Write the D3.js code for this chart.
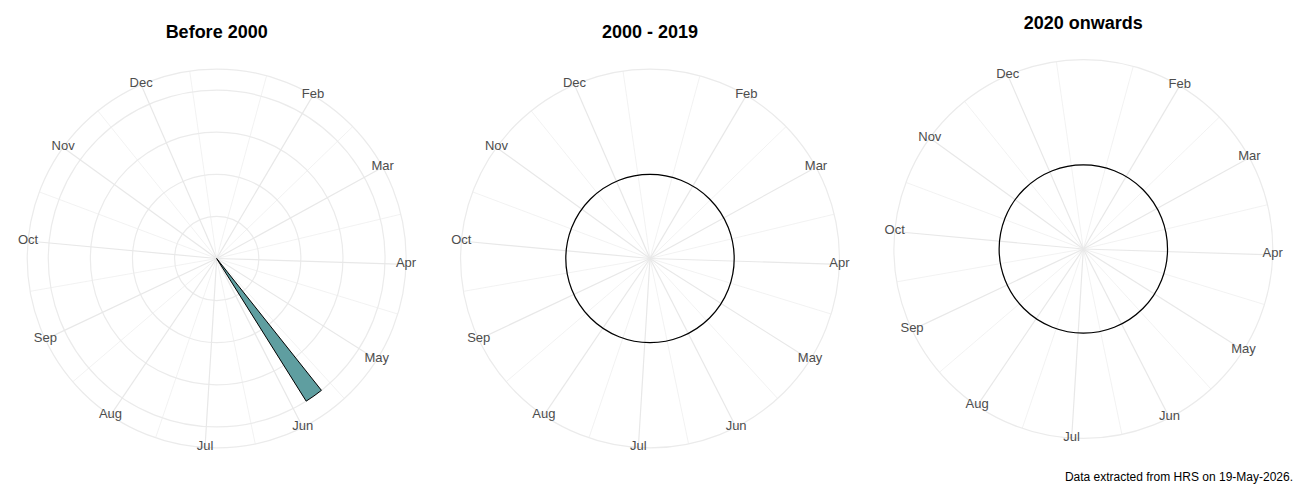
<!DOCTYPE html>
<html>
<head>
<meta charset="utf-8">
<script src="https://cdn.jsdelivr.net/npm/d3@7"></script>
<style>
    body { margin: 0; background: #fff; }
    svg { display: block; font-family: "Liberation Sans", Arial, sans-serif; }
</style>
</head>
<body>
<div id="chart-container"></div>
<script>
const panelTitles = ["Before 2000", "2000 - 2019", "2020 onwards"];
const monthLabels = ["Jan", "Feb", "Mar", "Apr", "May", "Jun", "Jul", "Aug", "Sep", "Oct", "Nov", "Dec"];
// month breaks in week-of-year units
const monthBreaks = [1, 5.33, 9.67, 14, 18.33, 22.67, 27, 31.33, 35.67, 40, 44.33, 48.67];
const weekRange = [1, 52];
const countBreaks = [0, 0.25, 0.5, 0.75, 1];

// weekly counts per period (only non-empty weeks listed)
const before2000Weeks = [21.5];
const before2000Counts = [1];
const from2000Weeks = [];
const from2000Counts = [];
const from2020Weeks = [];
const from2020Counts = [];

const caption = "Data extracted from HRS on 19-May-2026.";

const panels = [
    { title: panelTitles[0], weeks: before2000Weeks, counts: before2000Counts },
    { title: panelTitles[1], weeks: from2000Weeks, counts: from2000Counts },
    { title: panelTitles[2], weeks: from2020Weeks, counts: from2020Counts }
];

const W = 1300, H = 500;
const svg = d3.select('#chart-container')
    .append('svg')
    .attr('width', W)
    .attr('height', H);

function createPolarChart(panel, i) {
    const cx = W / 3 * i + W / 6;
    // last panel sits a bit higher
    const cy = i === 2 ? 249 : 258.5;
    const titleY = i === 2 ? 29 : 38;
    const rMax = 168.4;
    const rRim = rMax * 0.45 / 0.4;

    const g = svg.append('g')
        .attr('transform', `translate(${cx}, ${cy})`);

    const theta = d3.scaleLinear()
        .domain(weekRange)
        .range([0, 2 * Math.PI]);

    const hasData = panel.counts.length > 0;
    const yDomain = hasData ? [0, d3.max(panel.counts)] : [-0.5, 0.5];
    const r = d3.scaleLinear()
        .domain(yDomain)
        .range([0, rMax]);

    const px = (a, rad) => rad * Math.sin(a);
    const py = (a, rad) => -rad * Math.cos(a);

    // minor theta grid: midpoints of month breaks
    const minorBreaks = monthBreaks.map((b, k) => {
        const next = k < monthBreaks.length - 1 ? monthBreaks[k + 1] : b + (b - monthBreaks[k - 1]);
        return (b + next) / 2;
    }).filter(b => b > weekRange[0] && b < weekRange[1]);

    g.selectAll('.minor-spoke')
        .data(minorBreaks)
        .enter()
        .append('line')
        .attr('class', 'minor-spoke')
        .attr('x1', 0).attr('y1', 0)
        .attr('x2', d => px(theta(d), rRim))
        .attr('y2', d => py(theta(d), rRim))
        .attr('stroke', '#ededed')
        .attr('stroke-width', 0.7);

    // radial grid circles
    const yGrid = hasData ? countBreaks.filter(b => b > 0) : [0];
    g.selectAll('.ring')
        .data(yGrid)
        .enter()
        .append('circle')
        .attr('class', 'ring')
        .attr('r', d => r(d))
        .attr('fill', 'none')
        .attr('stroke', '#ebebeb')
        .attr('stroke-width', 1.2);

    g.append('circle')
        .attr('r', rRim)
        .attr('fill', 'none')
        .attr('stroke', '#ebebeb')
        .attr('stroke-width', 1.2);

    const majorBreaks = monthBreaks
        .map((b, k) => ({ pos: b, label: monthLabels[k] }))
        .filter(d => d.pos > weekRange[0] && d.pos < weekRange[1]);

    g.selectAll('.major-spoke')
        .data(majorBreaks)
        .enter()
        .append('line')
        .attr('class', 'major-spoke')
        .attr('x1', 0).attr('y1', 0)
        .attr('x2', d => px(theta(d.pos), rRim))
        .attr('y2', d => py(theta(d.pos), rRim))
        .attr('stroke', '#e8e8e8')
        .attr('stroke-width', 1.2);

    // bars
    const arc = d3.arc();
    const barData = panel.weeks.map((w, k) => ({ week: w, n: panel.counts[k] }));
    g.selectAll('.bar')
        .data(barData)
        .enter()
        .append('path')
        .attr('class', 'bar')
        .attr('d', d => arc({
            innerRadius: r(0),
            outerRadius: r(d.n),
            startAngle: theta(d.week - 0.45),
            endAngle: theta(d.week + 0.45)
        }))
        .attr('fill', '#5f9ea0')
        .attr('stroke', 'black')
        .attr('stroke-width', 1);

    // zero-count outline over the whole year
    g.append('path')
        .attr('d', arc({
            innerRadius: r(0),
            outerRadius: r(0),
            startAngle: theta(weekRange[0]),
            endAngle: theta(weekRange[1])
        }))
        .attr('fill', 'none')
        .attr('stroke', 'black')
        .attr('stroke-width', 1.2);

    g.selectAll('.month-label')
        .data(majorBreaks)
        .enter()
        .append('text')
        .attr('class', 'month-label')
        .attr('x', d => px(theta(d.pos), rRim))
        .attr('y', d => py(theta(d.pos), rRim))
        .attr('dy', '0.2em')
        .attr('text-anchor', 'middle')
        .style('font-size', '13px')
        .style('fill', '#4d4d4d')
        .text(d => d.label);

    svg.append('text')
        .attr('x', cx)
        .attr('y', titleY)
        .attr('text-anchor', 'middle')
        .style('font-size', '18px')
        .style('font-weight', 'bold')
        .style('fill', '#000')
        .text(panel.title);
}

panels.forEach((p, i) => createPolarChart(p, i));

svg.append('text')
    .attr('x', 1293)
    .attr('y', 481)
    .attr('text-anchor', 'end')
    .style('font-size', '12px')
    .style('fill', '#000')
    .text(caption);
</script>
</body>
</html>
